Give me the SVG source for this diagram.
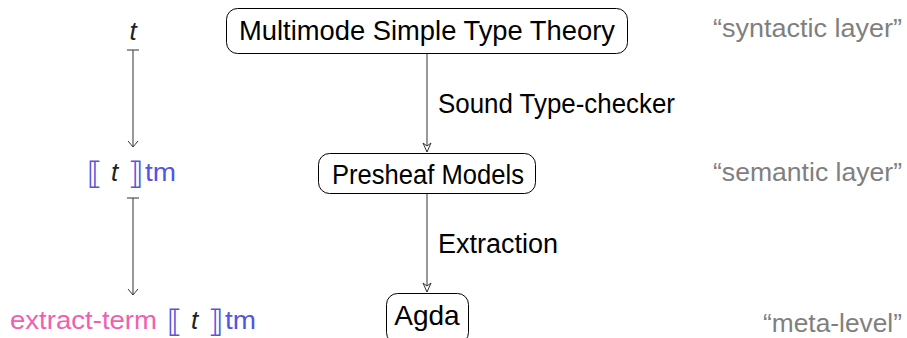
<svg xmlns="http://www.w3.org/2000/svg" width="907" height="338" viewBox="0 0 907 338">
<style>
.node rect{fill:#fff;stroke:#000;stroke-width:1}
.lbl{font-family:"Liberation Sans",Arial,sans-serif;font-size:27px;fill:#000}
.gray{font-family:"Liberation Sans",Arial,sans-serif;font-size:25px;fill:#7f7f7f}
.it{font-family:"Liberation Sans",Arial,sans-serif;font-size:26px;font-style:italic;fill:#222}
.blue{font-family:"Liberation Sans",Arial,sans-serif;font-size:25px;fill:#5555dd}
.pink{font-family:"Liberation Sans",Arial,sans-serif;font-size:25px;fill:#f060b0}
.br{font-family:"DejaVu Sans",sans-serif;font-size:31px;fill:#5555dd}
.conn line{stroke:#333;stroke-width:1}
</style>
<defs>
<marker id="stealth" viewBox="-11 -6 13 12" refX="0" refY="0" markerWidth="13" markerHeight="12" markerUnits="userSpaceOnUse" orient="auto">
<path d="M0,0 L-9,-4 L-6,0 L-9,4 Z" fill="#fff" stroke="#333" stroke-width="1"/>
</marker>
<marker id="to" viewBox="-7 -7 10 14" refX="0" refY="0" markerWidth="10" markerHeight="14" markerUnits="userSpaceOnUse" orient="auto">
<path d="M-6,-5 Q-1.5,-1.2 0,0 Q-1.5,1.2 -6,5" fill="none" stroke="#333" stroke-width="1"/>
</marker>
</defs>

<g class="conn" id="connectors">
<line x1="427" y1="54" x2="427" y2="152" marker-end="url(#stealth)"/>
<line x1="427" y1="194" x2="427" y2="292" marker-end="url(#stealth)"/>
<line x1="133" y1="50" x2="133" y2="147" marker-end="url(#to)"/>
<line x1="127" y1="50" x2="139" y2="50"/>
<line x1="133" y1="198" x2="133" y2="295" marker-end="url(#to)"/>
<line x1="127" y1="198" x2="139" y2="198"/>
<text class="lbl" x="438" y="113" textLength="237" lengthAdjust="spacingAndGlyphs">Sound Type-checker</text>
<text class="lbl" x="438" y="253" textLength="120" lengthAdjust="spacingAndGlyphs">Extraction</text>
</g>

<g class="node" id="mstt">
<rect x="226.5" y="8.5" width="401" height="45" rx="11"/>
<text class="lbl" x="427" y="40" text-anchor="middle" textLength="376" lengthAdjust="spacingAndGlyphs">Multimode Simple Type Theory</text>
</g>
<g class="node" id="presheaf">
<rect x="318.5" y="153.5" width="217" height="40" rx="11"/>
<text class="lbl" x="428" y="184" text-anchor="middle" textLength="192" lengthAdjust="spacingAndGlyphs">Presheaf Models</text>
</g>
<g class="node" id="agda">
<rect x="386.5" y="293.5" width="82" height="50" rx="11"/>
<text class="lbl" x="427" y="325" text-anchor="middle" style="font-size:28px">Agda</text>
</g>

<g id="term-t">
<text class="it" x="133" y="40" text-anchor="middle">t</text>
</g>
<g id="term-sem">
<text class="br" x="87" y="184">⟦</text>
<text class="it" x="111" y="181">t</text>
<text class="br" x="128" y="184">⟧</text>
<text class="blue" x="145" y="181" textLength="31" lengthAdjust="spacingAndGlyphs">tm</text>
</g>
<g id="term-extract">
<text class="pink" x="10" y="329" textLength="147" lengthAdjust="spacingAndGlyphs">extract-term</text>
<text class="br" x="167" y="332">⟦</text>
<text class="it" x="191" y="329">t</text>
<text class="br" x="208" y="332">⟧</text>
<text class="blue" x="225" y="329" textLength="31" lengthAdjust="spacingAndGlyphs">tm</text>
</g>

<g id="layer-labels">
<text class="gray" x="902" y="37" text-anchor="end" textLength="189" lengthAdjust="spacingAndGlyphs">“syntactic layer”</text>
<text class="gray" x="902" y="181" text-anchor="end" textLength="189" lengthAdjust="spacingAndGlyphs">“semantic layer”</text>
<text class="gray" x="902" y="332" text-anchor="end" textLength="139" lengthAdjust="spacingAndGlyphs">“meta-level”</text>
</g>
</svg>
